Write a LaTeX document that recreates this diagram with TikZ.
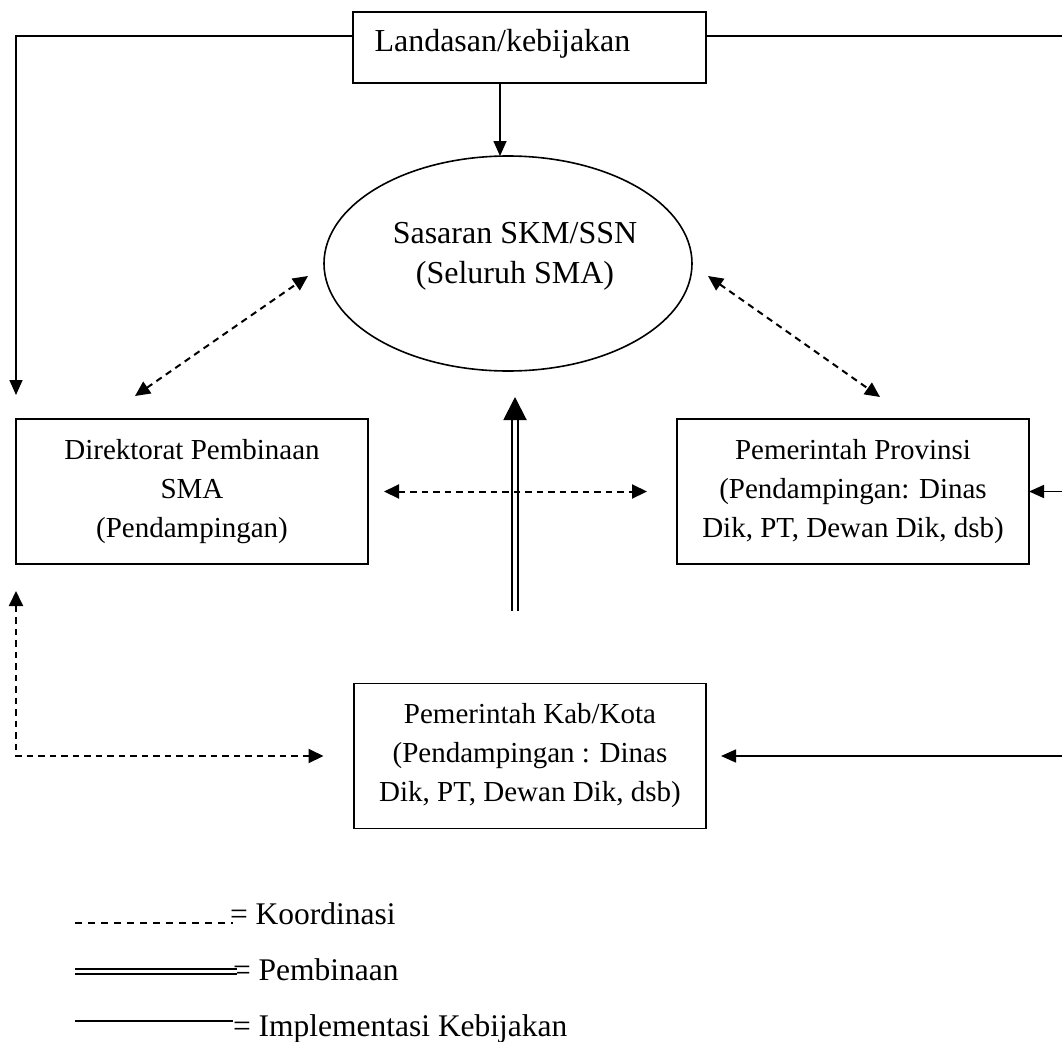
\documentclass[tikz,border=0pt]{standalone}
\usepackage{fontspec}
\setmainfont{Liberation Serif}
\usetikzlibrary{arrows.meta,shapes.geometric,calc}

\begin{document}
\begin{tikzpicture}[x=1pt,y=-1pt,
  box/.style={draw,line width=1.8pt,inner sep=0pt,outer sep=0pt,
    minimum width=352pt,minimum height=145pt,align=center,
    font=\fontsize{29}{39}\selectfont},
  lbl/.style={inner sep=0pt,outer sep=0pt,font=\fontsize{32}{40}\selectfont},
  legtxt/.style={inner sep=0pt,outer sep=0pt,anchor=base west,font=\fontsize{31.5}{38}\selectfont},
  impl/.style={line width=1.6pt,-{Triangle[length=15pt,width=13pt]}},
  koord/.style={line width=2pt,dash pattern=on 6.5pt off 5pt,
    {Triangle[length=15pt,width=14pt]}-{Triangle[length=15pt,width=14pt]}},
  bina/.style={double,double distance=4pt,line width=2pt,
    -{Triangle[length=23pt,width=23pt]}}
]
\useasboundingbox (0,0) rectangle (1062,1041);

% policy box and target ellipse
\node[draw,line width=1.8pt,inner sep=0pt,outer sep=0pt,
      minimum width=353pt,minimum height=71pt] (land) at (529.5,47.5) {};
\node[lbl,anchor=base west] (landtxt) at (374.5,52) {Landasan/kebijakan};

\node[draw,ellipse,line width=1.6pt,inner sep=0pt,outer sep=0pt,
      minimum width=368pt,minimum height=215pt] (sas) at (508,263.5) {};
\node[lbl,align=center] (sastxt) at (515,256) {Sasaran SKM/SSN\\(Seluruh SMA)};

% actor boxes
\node[box] (dir) at (192,491.5) {Direktorat Pembinaan\\SMA\\(Pendampingan)};
\node[box] (prov) at (853,491.5) {Pemerintah Provinsi\\(Pendampingan: Dinas\\Dik, PT, Dewan Dik, dsb)};
\node[box] (kab) at (530,756) {Pemerintah Kab/Kota\\(Pendampingan : Dinas\\Dik, PT, Dewan Dik, dsb)};

% free ends of connectors
\coordinate (dirIn) at (16,395);
\coordinate (sasTop) at (500,156);
\coordinate (railTop) at (1066,36);
\coordinate (railProv) at (1066,491.5);
\coordinate (railKab) at (1066,756);
\coordinate (dl1) at (135,396);
\coordinate (dl2) at (308,276);
\coordinate (dr1) at (708,276);
\coordinate (dr2) at (880,397);
\coordinate (binaFrom) at (515,611);
\coordinate (binaTo) at (515,397);

% policy implementation (solid)
\draw[impl] ([yshift=11.5pt]land.west) -| (dirIn);
\draw[impl] (land.south -| sasTop) -- (sasTop);
\draw[line width=1.6pt] ([yshift=11.5pt]land.east) -- (railTop) -- (railKab);
\draw[impl] (railProv) -- (prov.east);
\draw[impl,shorten >=15pt] (railKab) -- (kab.east);

% guidance (double)
\draw[bina] (binaFrom) -- (binaTo);

% coordination (dashed)
\draw[koord] (dl1) -- (dl2);
\draw[koord] (dr1) -- (dr2);
\draw[koord,shorten <=16pt,shorten >=30pt] (dir.east) -- (prov.west);
\draw[koord] ([yshift=-27pt]dir.south west) |- ([xshift=-30.5pt]kab.west);

% legend
\node[legtxt] (lk) at (230,924) {= Koordinasi};
\node[legtxt] (lp) at (233,980) {= Pembinaan};
\node[legtxt] (li) at (233,1036) {= Implementasi Kebijakan};
\draw[line width=1.4pt,dash pattern=on 7pt off 6pt] (75,923) -- (233,923);
\draw[double,double distance=3.5pt,line width=2pt] (75,971.5) -- (237,971.5);
\draw[line width=1.4pt] (75,1021) -- (233,1021);
\end{tikzpicture}
\end{document}
